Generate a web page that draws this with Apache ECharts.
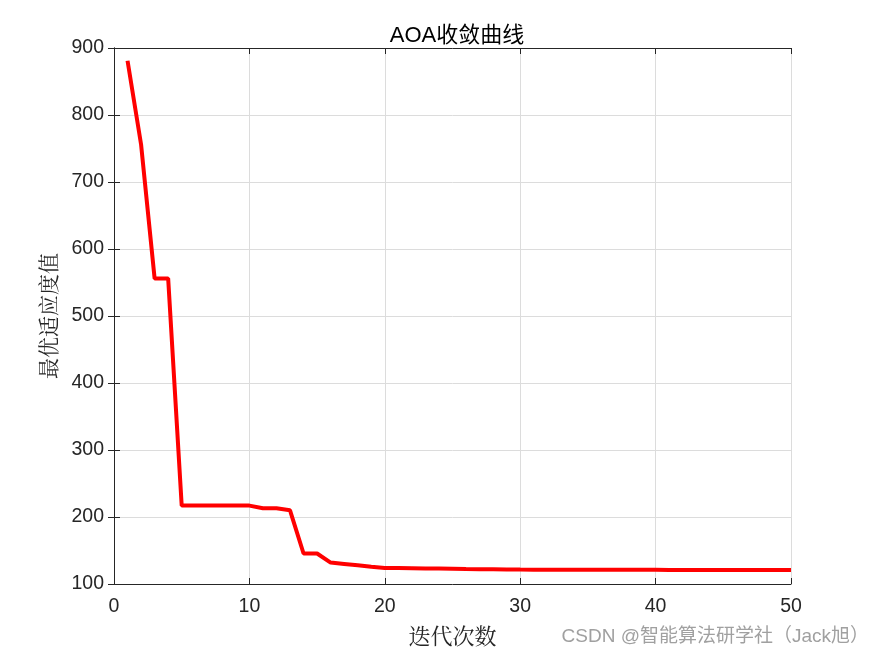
<!DOCTYPE html>
<html>
<head>
<meta charset="utf-8">
<script src="https://cdn.jsdelivr.net/npm/echarts@6/dist/echarts.min.js"></script>
<style>html,body{margin:0;padding:0;background:#fff}#c{width:875px;height:656px}</style>
</head>
<body>
<div id="c"></div>
<script>
const titleText = 'AOA收敛曲线';
const xName = '迭代次数';
const yName = '最优适应度值';
const watermark = 'CSDN @智能算法研学社（Jack旭）';
const iterations = [1,2,3,4,5,6,7,8,9,10,11,12,13,14,15,16,17,18,19,20,21,22,23,24,25,26,27,28,29,30,31,32,33,34,35,36,37,38,39,40,41,42,43,44,45,46,47,48,49,50];
const bestFitness = [881,756,556,556,217,217,217,217,217,217,213,213,210,145.5,145.5,132,130,128,125.8,124,123.8,123.5,123.2,123,122.7,122.3,122.1,121.9,121.7,121.5,121.4,121.3,121.3,121.2,121.2,121.2,121.1,121.1,121.1,121.1,121,121,121,121,121,121,121,121,121,121];
const xTicks = [0,10,20,30,40,50];
const yTicks = [100,200,300,400,500,600,700,800,900];

const chart = echarts.init(document.getElementById('c'), null, {renderer:'canvas'});
const labelFont = {fontFamily:'Liberation Sans, Arial, sans-serif', fontSize:19.5, color:'#262626'};
const axisLine = {show:true, lineStyle:{color:'#262626', width:1}};
const tick = {show:true, inside:true, length:6, lineStyle:{color:'#262626'}};
const gridLine = {show:true, lineStyle:{color:'#dcdcdc', width:1}};
chart.setOption({
  backgroundColor:'#fff',
  animation:false,
  title:{text:titleText, left:452, top:20, textAlign:'center',
    textStyle:{fontFamily:'Liberation Sans, Noto Sans CJK SC, sans-serif', fontSize:22, fontWeight:'normal', color:'#000'}},
  grid:{left:114, right:84, top:48, bottom:72, containLabel:false},
  xAxis:[{type:'value', min:xTicks[0], max:xTicks[xTicks.length-1], interval:10,
    name:xName, nameLocation:'middle', nameGap:41,
    nameTextStyle:{fontFamily:'Noto Serif CJK SC, Noto Sans CJK SC, serif', fontSize:22, color:'#262626'},
    axisLine:axisLine, axisTick:tick, splitLine:gridLine,
    axisLabel:Object.assign({margin:13}, labelFont)},
    {type:'value', position:'top', min:0, max:50, interval:10, axisLine:axisLine, axisTick:tick,
     axisLabel:{show:false}, splitLine:{show:false}}],
  yAxis:[{type:'value', min:yTicks[0], max:yTicks[yTicks.length-1], interval:100,
    name:yName, nameLocation:'middle', nameGap:55, nameRotate:90,
    nameTextStyle:{fontFamily:'Noto Serif CJK SC, Noto Sans CJK SC, serif', fontSize:21, color:'#262626'},
    axisLine:axisLine, axisTick:tick, splitLine:gridLine,
    axisLabel:Object.assign({margin:10}, labelFont)},
    {type:'value', position:'right', min:100, max:900, interval:100, axisLine:axisLine, axisTick:tick,
     axisLabel:{show:false}, splitLine:{show:false}}],
  graphic:[{type:'text', right:6, top:627, style:{text:watermark, fontSize:19,
    fontFamily:'Liberation Sans, Noto Sans CJK SC, sans-serif', fill:'#a0a0a0'}}],
  series:[{type:'line', xAxisIndex:0, yAxisIndex:0, showSymbol:false,
    data:iterations.map((x,i)=>[x,bestFitness[i]]),
    lineStyle:{color:'#ff0000', width:4}, itemStyle:{color:'#ff0000'}}]
});
</script>
</body>
</html>
